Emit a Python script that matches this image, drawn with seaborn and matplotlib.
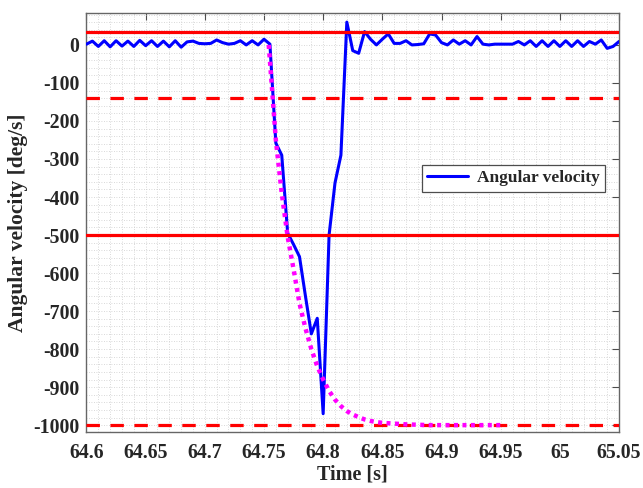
import numpy as np
import pandas as pd
import matplotlib
matplotlib.use("Agg")
import matplotlib.pyplot as plt
from matplotlib.ticker import MultipleLocator
import seaborn as sns

# ---------------- data ----------------
time_s = [
    64.600, 64.605, 64.610, 64.615, 64.620, 64.625, 64.630, 64.635, 64.640, 64.645,
    64.650, 64.655, 64.660, 64.665, 64.670, 64.675, 64.680, 64.685, 64.690, 64.695,
    64.700, 64.705, 64.710, 64.715, 64.720, 64.725, 64.730, 64.735, 64.740, 64.745,
    64.750, 64.755, 64.760, 64.765, 64.770, 64.775, 64.780, 64.785, 64.790, 64.795,
    64.800, 64.805, 64.810, 64.815, 64.820, 64.825, 64.830, 64.835, 64.840, 64.845,
    64.850, 64.855, 64.860, 64.865, 64.870, 64.875, 64.880, 64.885, 64.890, 64.895,
    64.900, 64.905, 64.910, 64.915, 64.920, 64.925, 64.930, 64.935, 64.940, 64.945,
    64.950, 64.955, 64.960, 64.965, 64.970, 64.975, 64.980, 64.985, 64.990, 64.995,
    65.000, 65.005, 65.010, 65.015, 65.020, 65.025, 65.030, 65.035, 65.040, 65.045,
    65.050,
]
angular_velocity = [
    2, 10, -4, 11, -5, 11, -3, 10, -4, 12,
    -2, 11, -4, 10, -5, 11, -6, 8, 10, 4,
    3, 4, 13, 6, 2, 4, 11, 0, 11, 0,
    15, 2, -258, -290, -495, -525, -557, -660, -760, -719,
    -970, -500, -363, -290, 60, -15, -22, 35, 15, 0,
    15, 29, 4, 4, 11, 0, 1, 3, 29, 26,
    6, 0, 13, 2, 11, 0, 22, 2, 0, 2,
    2, 2, 2, 9, 0, 11, -4, 11, -4, 11,
    -4, 11, -4, 11, -4, 9, 2, 13, -9, -4,
    9,
]

ref_time = [64.754, 64.760, 64.765, 64.770, 64.775, 64.780, 64.785, 64.790, 64.795,
            64.800, 64.805, 64.810, 64.815, 64.820, 64.825, 64.830, 64.835, 64.840,
            64.845, 64.850, 64.860, 64.870, 64.880, 64.890, 64.900, 64.925, 64.953]
ref_value = [0, -250, -390, -505, -590, -680, -745, -800, -845,
             -880, -910, -933, -950, -963, -972, -979, -985, -989,
             -992, -994, -996, -998, -999, -1000, -1000, -1000, -1000]

solid_limits = [35, -500]
dashed_limits = [-140, -1000]

x_ticks = [64.6, 64.65, 64.7, 64.75, 64.8, 64.85, 64.9, 64.95, 65.0, 65.05]
x_tick_labels = ["64.6", "64.65", "64.7", "64.75", "64.8", "64.85", "64.9", "64.95", "65", "65.05"]
y_ticks = [-1000, -900, -800, -700, -600, -500, -400, -300, -200, -100, 0]
y_tick_labels = ["-1000", "-900", "-800", "-700", "-600", "-500", "-400", "-300", "-200", "-100", "0"]

df = pd.DataFrame({"Time": time_s, "Angular velocity": angular_velocity})
df_ref = pd.DataFrame({"Time": ref_time, "Ref": ref_value})

# ---------------- style ----------------
sns.set_theme(style="white")
plt.rcParams["font.family"] = ["Liberation Serif", "DejaVu Serif"]
plt.rcParams["font.weight"] = "bold"
plt.rcParams["axes.unicode_minus"] = False

fig = plt.figure(figsize=(6.43, 4.88), dpi=100)
ax = fig.add_axes([0.1345, 0.1148, 0.8282, 0.8586])

# grid (MATLAB-like minor dotted grid)
ax.xaxis.set_minor_locator(MultipleLocator(0.01))
ax.yaxis.set_minor_locator(MultipleLocator(20))
ax.grid(True, which="both", color="#cccccc", linestyle=(0, (1, 2)), linewidth=0.6)
ax.set_axisbelow(True)

sns.lineplot(data=df, x="Time", y="Angular velocity", ax=ax, color="#0000ff",
             linewidth=2.2, label="Angular velocity", zorder=3)

for v in solid_limits:
    ax.axhline(v, color="#ff0000", linewidth=2.3, zorder=4)
for v in dashed_limits:
    ax.axhline(v, color="#ff0000", linewidth=2.3, dashes=(4.2, 3.3), zorder=4)

sns.lineplot(data=df_ref, x="Time", y="Ref", ax=ax, color="#ff00ff",
             linewidth=3.2, zorder=5, legend=False)
ax.lines[-1].set_dashes((0.9, 1.0))
ax.lines[-1].set_dash_capstyle("butt")

ax.set_xlim(64.6, 65.05)
ax.set_ylim(-1018, 84)
ax.set_xticks(x_ticks)
ax.set_xticklabels(x_tick_labels)
ax.set_yticks(y_ticks)
ax.set_yticklabels(y_tick_labels)

ax.tick_params(axis="both", which="major", direction="in", length=5, width=0.8,
               color="0.3", labelsize=14.3, top=True, right=True)
ax.tick_params(axis="x", which="major", pad=8)
ax.tick_params(axis="y", which="major", pad=5)
ax.tick_params(axis="both", which="minor", length=0)
for lab in ax.get_xticklabels() + ax.get_yticklabels():
    lab.set_fontweight("bold")

for s in ax.spines.values():
    s.set_visible(True)
    s.set_color("0.4")
    s.set_linewidth(1.0)

ax.set_xlabel("Time [s]", fontsize=14.5, fontweight="bold", labelpad=1)
ax.set_ylabel("Angular velocity [deg/s]", fontsize=15.5, fontweight="bold", labelpad=4)

leg = ax.legend(loc="upper right", bbox_to_anchor=(0.974, 0.637), borderaxespad=0,
                fontsize=12.5, frameon=True, fancybox=False, framealpha=1,
                edgecolor="0.3", handlelength=2.4, borderpad=0.3, handletextpad=0.5)
leg.get_frame().set_linewidth(0.9)
for t in leg.get_texts():
    t.set_fontweight("bold")

fig.savefig("out.png", dpi=100)
